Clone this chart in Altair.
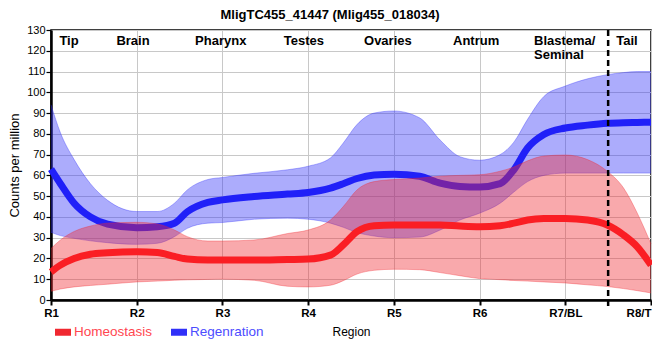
import json
import altair as alt
import pandas as pd

# ---- data ----
x_pos = [0, 0.11, 0.27, 0.46, 0.66, 1.0, 1.24, 1.44, 1.59, 1.83, 2.0, 2.37, 2.76, 3.0,
         3.26, 3.41, 3.57, 3.77, 4.0, 4.3, 4.54, 4.77, 5.0, 5.24, 5.4, 5.56, 5.75, 6.0,
         6.26, 6.49, 6.68, 6.84, 7.0]

regen_mean = [63, 56, 46.6, 40, 36.5, 34.8, 35.3, 37, 42.5, 47, 48.2, 49.8, 51, 51.8,
              53.9, 56, 58.5, 60.2, 60.6, 59.6, 56.3, 54.7, 54.4, 56, 62.7, 73.2, 79.7, 82.8,
              84.2, 85.1, 85.4, 85.5, 85.6]
regen_upper = [94, 80.5, 67.6, 56, 48, 42.6, 42.6, 46.6, 53, 58, 59, 61, 62.7, 64.4,
               68.4, 75.6, 84.5, 90, 91, 87.7, 77, 69, 67.3, 70, 76, 87, 98, 103,
               106.5, 108.5, 109.5, 110, 110]
regen_lower = [32.6, 31, 29.7, 28.5, 27.6, 26.8, 27.3, 30.5, 34.5, 37, 37.3, 38.9, 39.4, 38.9,
               37, 35, 32.5, 30.8, 30, 30.3, 33.7, 38.5, 41.8, 46.6, 52, 57, 60, 61.1,
               61.1, 61.1, 61.1, 61.1, 61.1]

homeo_mean = [13.5, 16.8, 20, 22, 22.7, 23.2, 22.9, 21, 19.7, 19.2, 19.2, 19.2, 19.5, 19.7,
              21.6, 26.5, 32.9, 35.8, 36.1, 36.1, 36.1, 35.6, 35.3, 35.8, 37, 38.5, 39.2, 39.3,
              38.5, 36.1, 31.3, 25.6, 16.8]
homeo_upper = [24.8, 28.9, 33, 35.6, 37, 37.4, 36.6, 33.7, 30.5, 28.4, 28.4, 28.9, 32, 33.7,
               38.5, 45, 53, 57, 58, 58.7, 59.6, 60, 60.3, 62, 64, 67, 69.3, 69.8,
               67.6, 62, 53.9, 41.8, 27]
homeo_lower = [4.2, 5.3, 6.3, 7, 7.6, 8.7, 9.1, 9.5, 9.7, 9.9, 10, 9.5, 6.6, 6.3,
               7.1, 9.3, 12.5, 14.3, 14.8, 14.6, 13.2, 11.7, 10.3, 9.8, 9.4, 9.1, 8.7, 8.2,
               7.3, 6.5, 5.5, 4.5, 3.4]

x_tick_labels = ["R1", "R2", "R3", "R4", "R5", "R6", "R7/BL", "R8/T"]
y_ticks = list(range(0, 131, 10))

region_names = ["Tip", "Brain", "Pharynx", "Testes", "Ovaries", "Antrum", "Tail"]
region_x = [0.21, 0.957, 1.98, 2.95, 3.93, 4.96, 6.72]
region_y = [122.8] * 7
blastema_lines = ["Blastema/", "Seminal"]
blastema_x = [5.635, 5.635]
blastema_y = [122.8, 115.8]
divider_x = [6.5]

chart_title = ["MligTC455_41447 (Mlig455_018034)"]

series_names = ["Homeostasis", "Regenration"]
series_colors = ["#f02830", "#3030f8"]
line_colors = ["#fa1e24", "#2020f8"]

FONT = "Liberation Sans"

homeo = pd.DataFrame({"x": x_pos, "mean": homeo_mean, "upper": homeo_upper,
                      "lower": homeo_lower, "series": series_names[0]})
regen = pd.DataFrame({"x": x_pos, "mean": regen_mean, "upper": regen_upper,
                      "lower": regen_lower, "series": series_names[1]})

x_axis = alt.Axis(values=list(range(8)),
                  labelExpr=json.dumps(x_tick_labels) + "[round(datum.value)]",
                  labelAlign=alt.ExprRef("datum.value == 7 ? 'right' : 'center'"),
                  labelFlush=False, labelFontWeight="bold", labelFontSize=11.5,
                  labelFont=FONT, labelColor="black", labelPadding=2.5,
                  tickSize=5, tickWidth=2, tickColor="black",
                  domainColor="black", domainWidth=2.5,
                  gridColor="#c8c8c8", gridWidth=1,
                  title="Region", titleFont=FONT, titleFontSize=12,
                  titleFontWeight="normal", titleColor="black", titlePadding=7)
y_axis = alt.Axis(values=y_ticks, labelFontSize=11, labelFont=FONT, labelColor="black",
                  labelPadding=1, tickSize=5, tickColor="black", tickWidth=1.2,
                  domainColor="black", domainWidth=2.5,
                  gridColor="#c8c8c8", gridWidth=1,
                  title="Counts per million", titleFont=FONT, titleFontSize=13,
                  titleFontWeight="normal", titleColor="black", titlePadding=5)

xs = alt.Scale(domain=[0, 7], nice=False, zero=False)
ys = alt.Scale(domain=[0, 130], nice=False)


def X(field="x"):
    return alt.X(f"{field}:Q", scale=xs, axis=x_axis)


def Y(field):
    return alt.Y(f"{field}:Q", scale=ys, axis=y_axis)


color = alt.Color(
    "series:N",
    scale=alt.Scale(domain=series_names, range=series_colors),
    legend=alt.Legend(
        orient="none", legendX=4, legendY=294, direction="horizontal", title=None,
        symbolType="M-1,-0.4375H1V0.4375H-1Z", symbolSize=256, symbolStrokeWidth=0,
        symbolOpacity=1, labelFontSize=13.5, labelFont=FONT, labelOffset=3,
        columnPadding=18,
        labelColor=alt.ExprRef("datum.value == 'Homeostasis' ? '#ff4650' : '#4c4cff'"),
    ),
)


def band(df):
    return alt.Chart(df).mark_area(interpolate="monotone", fillOpacity=0.4).encode(
        x=X(), y=Y("upper"), y2="lower:Q", color=color)


def edge(df, field, col):
    return alt.Chart(df).mark_line(interpolate="monotone", strokeWidth=1,
                                   opacity=0.35, color=col).encode(x=X(), y=Y(field))


def mean_line(df, col):
    return alt.Chart(df).mark_line(interpolate="monotone", strokeWidth=7,
                                   color=col).encode(x=X(), y=Y("mean"))


labels_df = pd.DataFrame({"x": region_x, "y": region_y, "t": region_names})
blast_df = pd.DataFrame({"x": blastema_x, "y": blastema_y, "t": blastema_lines})

region_text = alt.Chart(labels_df).mark_text(
    font=FONT, fontSize=13, fontWeight="bold", baseline="alphabetic", align="center",
    color="black").encode(x=X(), y=Y("y"), text="t:N")
blast_text = alt.Chart(blast_df).mark_text(
    font=FONT, fontSize=13, fontWeight="bold", baseline="alphabetic", align="left",
    color="black").encode(x=X(), y=Y("y"), text="t:N")

title_text = alt.Chart(pd.DataFrame({"t": chart_title})).mark_text(
    font=FONT, fontSize=13, fontWeight="bold", baseline="alphabetic", align="center",
    color="black").encode(x=alt.value(279), y=alt.value(-11), text="t:N")

divider = alt.Chart(pd.DataFrame({"x": divider_x})).mark_rule(
    strokeDash=[6, 4], strokeWidth=2.5, color="black").encode(
    x=X(), y=alt.value(0), y2=alt.value(276))

chart = alt.layer(
    band(regen), edge(regen, "upper", series_colors[1]), edge(regen, "lower", series_colors[1]),
    mean_line(regen, line_colors[1]),
    band(homeo), edge(homeo, "upper", series_colors[0]), edge(homeo, "lower", series_colors[0]),
    mean_line(homeo, line_colors[0]),
    divider, region_text, blast_text, title_text,
).properties(
    width=600, height=270,
    padding={"left": 43, "top": 22, "right": 1, "bottom": 50},
    autosize=alt.AutoSizeParams(type="none"),
).configure_view(stroke="black", strokeWidth=1.5)

chart.save("out.html", embed_options={"renderer": "svg", "actions": False})
